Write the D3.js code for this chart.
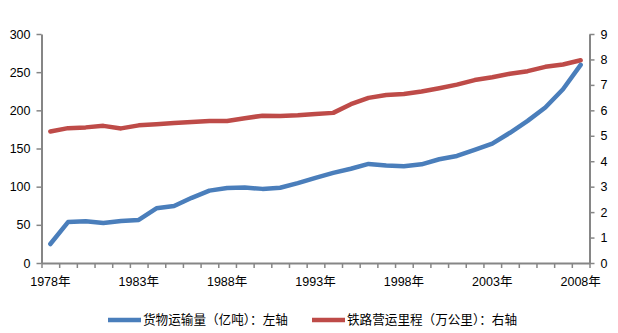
<!DOCTYPE html>
<html>
<head>
<meta charset="utf-8">
<script src="https://cdn.jsdelivr.net/npm/d3@7/dist/d3.min.js"></script>
<style>
  html, body { margin: 0; padding: 0; background: #fff; }
  svg { display: block; }
  text { font-family: "Liberation Sans", Arial, "Noto Sans CJK SC", sans-serif; fill: #000; }
</style>
</head>
<body>
<svg id="chart" width="618" height="333"></svg>
<script>
// Years 1978–2008
const years = d3.range(1978, 2009).map(String);

// 货物运输量（亿吨） — left axis
const freight = [24.9, 53.6, 54.6, 52.4, 54.9, 56.4, 71.7, 74.6, 85.4, 94.8,
                 98.3, 98.8, 97.1, 98.6, 104.6, 111.6, 118.0, 123.5, 129.8, 127.8,
                 126.7, 129.3, 135.9, 140.2, 148.3, 156.4, 170.6, 186.2, 203.7, 227.6,
                 259.5];

// 铁路营运里程（万公里） — right axis
const mileage = [5.17, 5.30, 5.33, 5.39, 5.29, 5.41, 5.45, 5.50, 5.54, 5.58,
                 5.58, 5.69, 5.79, 5.78, 5.81, 5.86, 5.90, 6.24, 6.49, 6.60,
                 6.64, 6.74, 6.87, 7.01, 7.19, 7.30, 7.44, 7.54, 7.71, 7.80,
                 7.97];

const leftTicks = [0, 50, 100, 150, 200, 250, 300];
const rightTicks = [0, 1, 2, 3, 4, 5, 6, 7, 8, 9];
const labelYears = ["1978", "1983", "1988", "1993", "1998", "2003", "2008"];

const seriesNames = ["货物运输量（亿吨）：左轴", "铁路营运里程（万公里）：右轴"];
const colors = ["#4a7ebb", "#be4b48"];

(function draw() {
  const svg = d3.select("#chart");
  const plotLeft = 41.5, plotRight = 589.5, plotTop = 34, plotBottom = 263;
  const axisColor = "#868686";

  const x = d3.scaleBand().domain(years).range([plotLeft, plotRight]).paddingInner(0).paddingOuter(0);
  const xc = d => x(d) + x.bandwidth() / 2;
  const yL = d3.scaleLinear().domain([0, 300]).range([plotBottom, plotTop]);
  const yR = d3.scaleLinear().domain([0, 9]).range([plotBottom, plotTop]);

  // Left axis
  const gL = svg.append("g").attr("transform", `translate(${plotLeft},0)`)
    .call(d3.axisLeft(yL).tickValues(leftTicks).tickSize(5).tickSizeOuter(0).tickPadding(6));
  // Right axis
  const gR = svg.append("g").attr("transform", `translate(${plotRight},0)`)
    .call(d3.axisRight(yR).tickValues(rightTicks).tickSize(5).tickSizeOuter(0).tickPadding(6));
  // Bottom axis: tick marks at category boundaries
  const xb = d3.scaleLinear().domain([0, years.length]).range([plotLeft, plotRight]);
  const gB = svg.append("g").attr("transform", `translate(0,${plotBottom})`)
    .call(d3.axisBottom(xb).tickValues(d3.range(0, years.length + 1)).tickSize(5).tickSizeOuter(0).tickFormat(""));
  // Bottom labels centered on categories
  const gBL = svg.append("g").attr("transform", `translate(0,${plotBottom})`)
    .call(d3.axisBottom(x).tickValues(labelYears).tickSize(0).tickPadding(14).tickFormat(d => d + "年"));
  gBL.select(".domain").remove();

  [gL, gR, gB].forEach(g => {
    g.select(".domain").attr("stroke", axisColor).attr("stroke-width", 2);
    g.selectAll(".tick line").attr("stroke", axisColor).attr("stroke-width", 1.5);
  });
  [gL, gR, gBL].forEach(g => {
    g.selectAll("text").attr("font-size", 12.5).attr("fill", "#000")
      .style("font-family", "'Liberation Sans', Arial, 'Noto Sans CJK SC', sans-serif");
  });

  // Series lines
  const lineL = d3.line().x((d, i) => xc(years[i])).y(d => yL(d));
  const lineR = d3.line().x((d, i) => xc(years[i])).y(d => yR(d));

  svg.append("path").datum(mileage).attr("d", lineR)
    .attr("fill", "none").attr("stroke", colors[1]).attr("stroke-width", 4.5)
    .attr("stroke-linejoin", "round").attr("stroke-linecap", "round");
  svg.append("path").datum(freight).attr("d", lineL)
    .attr("fill", "none").attr("stroke", colors[0]).attr("stroke-width", 4.5)
    .attr("stroke-linejoin", "round").attr("stroke-linecap", "round");

  // Legend
  const legendItems = [{x: 108, name: seriesNames[0], color: colors[0]},
                       {x: 312, name: seriesNames[1], color: colors[1]}];
  const lg = svg.append("g").attr("transform", "translate(0,320)");
  legendItems.forEach(item => {
    lg.append("line").attr("x1", item.x).attr("x2", item.x + 33).attr("y1", 0).attr("y2", 0)
      .attr("stroke", item.color).attr("stroke-width", 4.5);
    lg.append("text").attr("x", item.x + 35).attr("y", 0).attr("dy", "0.35em")
      .attr("font-size", 12.6).style("font-family", "'Noto Sans CJK SC', sans-serif")
      .text(item.name);
  });
})();
</script>
</body>
</html>
